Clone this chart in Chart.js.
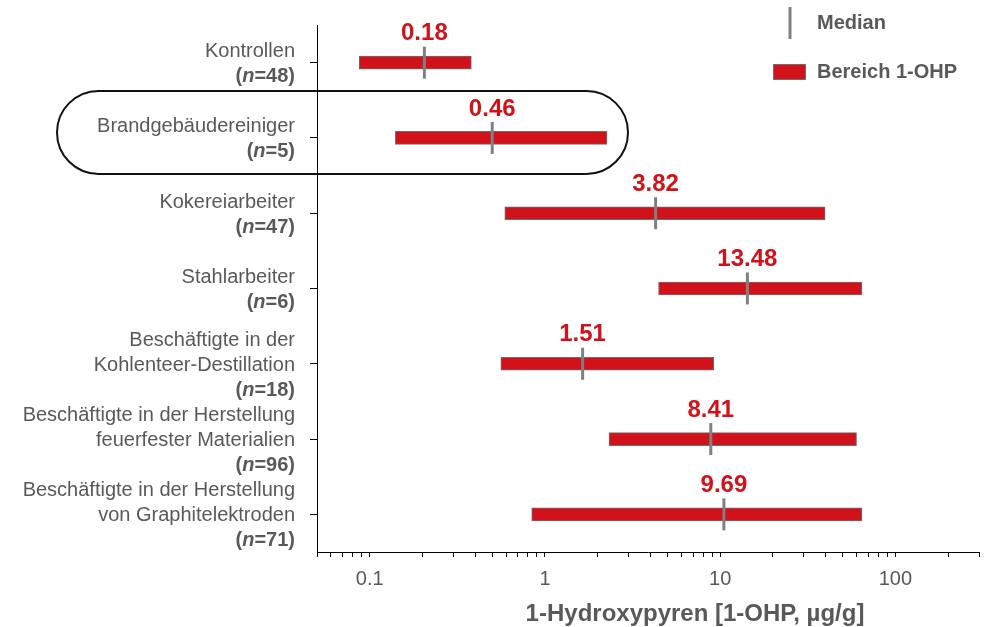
<!DOCTYPE html>
<html>
<head>
<meta charset="utf-8">
<script src="https://cdn.jsdelivr.net/npm/chart.js@4.4.1/dist/chart.umd.min.js"></script>
<style>
  body { margin: 0; background: #fff; }
</style>
</head>
<body>
<canvas id="chart" width="984" height="627"></canvas>
<script>
// categories (label lines) and sample sizes
const categories = [
    ['Kontrollen'],
    ['Brandgebäudereiniger'],
    ['Kokereiarbeiter'],
    ['Stahlarbeiter'],
    ['Beschäftigte in der', 'Kohlenteer-Destillation'],
    ['Beschäftigte in der Herstellung', 'feuerfester Materialien'],
    ['Beschäftigte in der Herstellung', 'von Graphitelektroden']
];
const sampleSizes = [48, 5, 47, 6, 18, 96, 71];

// range of 1-OHP (µg/g)
const rangeMin = [0.087, 0.14, 0.59, 4.45, 0.56, 2.32, 0.84];
const rangeMax = [0.38, 2.26, 39.7, 64.4, 9.19, 60.0, 64.4];

// median marker position and printed median value
const medianPos = [0.205, 0.50, 4.28, 14.3, 1.64, 8.84, 10.5];
const medianLabels = [0.18, 0.46, 3.82, 13.48, 1.51, 8.41, 9.69];

// x axis
const xTickLabels = [0.1, 1, 10, 100];
const xMin = 0.05;
const xMax = 300;

const FONT = "'Liberation Sans', Arial, sans-serif";
const GRAY = '#595959';
const RED = '#d2121a';
const MEDIAN_GRAY = '#808080';

const overlay = {
    id: 'overlay',
    afterDraw(chart) {
        const { ctx, scales: { x, y }, chartArea } = chart;
        ctx.save();

        // category labels on the left
        const labelRight = chartArea.left - 22;
        ctx.textBaseline = 'middle';
        categories.forEach((lines, i) => {
            const cy = y.getPixelForValue(i);
            const total = lines.length + 1;
            let ly = cy - (total - 1) * 12.5 + 1.5;
            ctx.fillStyle = GRAY;
            ctx.textAlign = 'right';
            ctx.font = '20px ' + FONT;
            lines.forEach(t => { ctx.fillText(t, labelRight, ly); ly += 25; });

            const parts = [
                ['bold 20px ', '('],
                ['italic bold 20px ', 'n'],
                ['bold 20px ', '=' + sampleSizes[i] + ')']
            ];
            let w = 0;
            parts.forEach(p => { ctx.font = p[0] + FONT; w += ctx.measureText(p[1]).width; });
            let px = labelRight - w;
            ctx.textAlign = 'left';
            parts.forEach(p => {
                ctx.font = p[0] + FONT;
                ctx.fillText(p[1], px, ly);
                px += ctx.measureText(p[1]).width;
            });
        });

        // median values above the markers
        ctx.fillStyle = RED;
        ctx.font = 'bold 24px ' + FONT;
        ctx.textAlign = 'center';
        medianLabels.forEach((v, i) => {
            ctx.fillText(String(v), x.getPixelForValue(medianPos[i]), y.getPixelForValue(i) - 29);
        });

        // rounded frame around Brandgebäudereiniger
        const fy = y.getPixelForValue(1);
        const top = fy - 47, bottom = fy + 36;
        const r = (bottom - top) / 2;
        const left = 57, right = x.getPixelForValue(rangeMax[1]) + 21;
        ctx.beginPath();
        ctx.moveTo(left + r, top);
        ctx.lineTo(right - r, top);
        ctx.arc(right - r, top + r, r, -Math.PI / 2, Math.PI / 2);
        ctx.lineTo(left + r, bottom);
        ctx.arc(left + r, top + r, r, Math.PI / 2, Math.PI * 1.5);
        ctx.closePath();
        ctx.strokeStyle = '#111';
        ctx.lineWidth = 2;
        ctx.stroke();

        // legend
        ctx.strokeStyle = MEDIAN_GRAY;
        ctx.lineWidth = 3;
        ctx.beginPath();
        ctx.moveTo(790, 7);
        ctx.lineTo(790, 39);
        ctx.stroke();
        ctx.fillStyle = RED;
        ctx.fillRect(773, 64, 33, 16);
        ctx.strokeStyle = '#6e6e6e';
        ctx.lineWidth = 1;
        ctx.strokeRect(773.5, 64.5, 32, 15);
        ctx.fillStyle = GRAY;
        ctx.font = 'bold 20px ' + FONT;
        ctx.textAlign = 'left';
        ctx.fillText('Median', 817, 23);
        ctx.fillText('Bereich 1-OHP', 817, 72);

        // axis title
        ctx.font = 'bold 24px ' + FONT;
        ctx.textAlign = 'center';
        ctx.textBaseline = 'alphabetic';
        ctx.fillText('1-Hydroxypyren [1-OHP, µg/g]', (chartArea.left + chartArea.right) / 2 + 47, 621);

        ctx.restore();
    }
};

new Chart(document.getElementById('chart'), {
    type: 'bar',
    data: {
        labels: categories.map(c => c.join(' ')),
        datasets: [
            {
                type: 'scatter',
                label: 'Median',
                data: medianPos.map((v, i) => ({ x: v, y: i })),
                pointStyle: 'line',
                rotation: 90,
                radius: 16,
                hoverRadius: 16,
                borderWidth: 3,
                borderColor: MEDIAN_GRAY,
                clip: false,
                order: 0
            },
            {
                label: 'Bereich 1-OHP',
                data: rangeMin.map((v, i) => [v, rangeMax[i]]),
                backgroundColor: RED,
                borderColor: '#6e6e6e',
                borderWidth: 1,
                borderSkipped: false,
                barThickness: 13,
                order: 1
            }
        ]
    },
    options: {
        indexAxis: 'y',
        responsive: false,
        animation: false,
        layout: { autoPadding: false, padding: { left: 310, right: 5, top: 25, bottom: 26 } },
        plugins: { legend: { display: false }, tooltip: { enabled: false } },
        scales: {
            x: {
                type: 'logarithmic',
                min: xMin,
                max: xMax,
                offset: false,
                afterBuildTicks: (scale) => {
                    scale.ticks = scale.ticks.filter(t => {
                        const s = t.value / Math.pow(10, Math.floor(Math.log10(t.value) + 1e-9));
                        return Math.abs(s - Math.round(s)) < 1e-6;
                    });
                },
                afterFit: (scale) => {
                    scale.paddingLeft = 0;
                    scale.paddingRight = 0;
                },
                grid: { display: true, drawOnChartArea: false, drawTicks: true, tickLength: 5, tickColor: '#000' },
                border: { display: true, color: '#000', width: 1 },
                ticks: {
                    autoSkip: false,
                    maxRotation: 0,
                    minRotation: 0,
                    padding: 10,
                    color: GRAY,
                    font: { family: FONT, size: 20 },
                    callback: (v) => xTickLabels.some(t => Math.abs(t - v) < 1e-9) ? String(v) : ''
                }
            },
            y: {
                type: 'category',
                offset: true,
                grid: { display: true, offset: false, drawOnChartArea: false, drawTicks: true, tickLength: 7, tickColor: '#000' },
                border: { display: true, color: '#000', width: 1 },
                ticks: { display: false }
            }
        }
    },
    plugins: [overlay]
});
</script>
</body>
</html>
